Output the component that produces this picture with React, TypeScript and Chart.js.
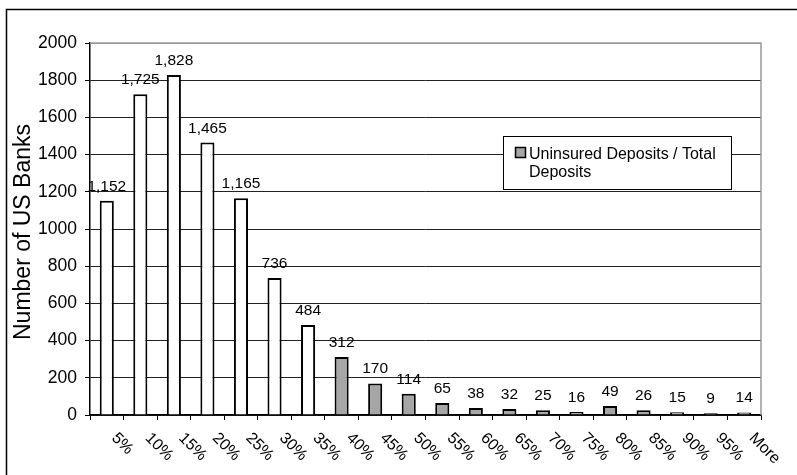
import React, { useEffect, useRef } from "react";
import { Chart, registerables } from "chart.js";

Chart.register(...registerables);

const categories = ["5%", "10%", "15%", "20%", "25%", "30%", "35%", "40%", "45%", "50%", "55%", "60%", "65%", "70%", "75%", "80%", "85%", "90%", "95%", "More"];
const bankCounts = [1152, 1725, 1828, 1465, 1165, 736, 484, 312, 170, 114, 65, 38, 32, 25, 16, 49, 26, 15, 9, 14];
const yTicks = [0, 200, 400, 600, 800, 1000, 1200, 1400, 1600, 1800, 2000];
const seriesName = "Uninsured Deposits / Total Deposits";
const legendLines = ["Uninsured Deposits / Total", "Deposits"];
const yTitle = "Number of US Banks";

const FONT = '"Liberation Sans", Arial, Helvetica, sans-serif';
const GRAY = "#a6a6a6";

function isGray(label: string) {
  const n = parseFloat(label);
  return isNaN(n) || n >= 40;
}

const decorPlugin = {
  id: "decor",
  afterDraw(chart: any) {
    const ctx = chart.ctx;
    const area = chart.chartArea;
    const meta = chart.getDatasetMeta(0);
    ctx.save();
    // outer border
    ctx.strokeStyle = "#000";
    ctx.lineWidth = 1.5;
    ctx.beginPath();
    ctx.moveTo(6.5, 800);
    ctx.lineTo(6.5, 9.5);
    ctx.lineTo(900, 9.5);
    ctx.stroke();
    // plot border top/right
    ctx.strokeStyle = "#999";
    ctx.lineWidth = 1.5;
    ctx.beginPath();
    ctx.moveTo(area.left, area.top);
    ctx.lineTo(area.right, area.top);
    ctx.lineTo(area.right, area.bottom);
    ctx.stroke();

    // data labels
    ctx.fillStyle = "#000";
    ctx.font = `15.5px ${FONT}`;
    ctx.textAlign = "center";
    ctx.textBaseline = "alphabetic";
    meta.data.forEach((bar: any, i: number) => {
      ctx.fillText(bankCounts[i].toLocaleString("en-US"), bar.x, bar.y - 10);
    });

    // x labels rotated
    const xs = chart.scales.x;
    ctx.font = `16px ${FONT}`;
    ctx.textAlign = "left";
    ctx.textBaseline = "top";
    categories.forEach((c, i) => {
      const cx = xs.getPixelForValue(i);
      ctx.save();
      ctx.translate(cx + 13, area.bottom + 15);
      ctx.rotate(Math.PI / 4);
      ctx.fillText(c, 0, 0);
      ctx.restore();
    });

    // y title
    ctx.save();
    ctx.font = `23px ${FONT}`;
    ctx.textAlign = "center";
    ctx.textBaseline = "middle";
    ctx.translate(24, (area.top + area.bottom) / 2 + 3);
    ctx.rotate(-Math.PI / 2);
    ctx.fillText(yTitle, 0, 0);
    ctx.restore();

    // legend
    const lx = 503.5, ly = 136.5, lw = 228, lh = 53;
    ctx.fillStyle = "#fff";
    ctx.fillRect(lx, ly, lw, lh);
    ctx.strokeStyle = "#000";
    ctx.lineWidth = 1;
    ctx.strokeRect(lx, ly, lw, lh);
    ctx.fillStyle = GRAY;
    ctx.fillRect(515.5, 147.5, 10, 10);
    ctx.lineWidth = 1.5;
    ctx.strokeRect(515.5, 147.5, 10, 10);
    ctx.fillStyle = "#000";
    ctx.font = `16px ${FONT}`;
    ctx.textAlign = "left";
    ctx.textBaseline = "alphabetic";
    ctx.fillText(legendLines[0], 529, 159);
    ctx.fillText(legendLines[1], 529, 177);
    ctx.restore();
  },
};

export default function App() {
  const ref = useRef<HTMLCanvasElement>(null);
  useEffect(() => {
    if (!ref.current) return;
    const chart = new Chart(ref.current, {
      type: "bar",
      data: {
        labels: categories,
        datasets: [
          {
            label: seriesName,
            data: bankCounts,
            backgroundColor: (c: any) => (isGray(categories[c.dataIndex] ?? "") ? GRAY : "#fff"),
            borderColor: "#000",
            borderWidth: 2,
            barPercentage: 0.42,
            categoryPercentage: 1,
          },
        ],
      },
      options: {
        animation: false,
        responsive: false,
        devicePixelRatio: 1,
        layout: { padding: { left: 0, top: 43, right: 36, bottom: 0 } },
        plugins: { legend: { display: false }, tooltip: { enabled: false } },
        scales: {
          x: {
            afterFit: (s: any) => {
              s.height = 60;
            },
            ticks: { display: false },
            grid: {
              offset: true,
              drawOnChartArea: false,
              drawTicks: true,
              tickLength: 5,
              color: "#000",
            },
            border: { display: true, color: "#000", width: 1.5 },
          },
          y: {
            min: 0,
            max: 2000,
            afterFit: (s: any) => {
              s.width = 90;
            },
            afterBuildTicks: (s: any) => {
              s.ticks = yTicks.map((v) => ({ value: v }));
            },
            ticks: {
              color: "#000",
              font: { family: FONT, size: 17.5 },
              padding: 8,
              callback: (v: any) => String(v),
            },
            grid: {
              color: (c: any) => (c.tick && c.tick.value === 2000 ? "#999" : "#222"),
              lineWidth: 1,
              tickLength: 5,
              tickColor: "#000",
            },
            border: { display: true, color: "#000", width: 1.5 },
          },
        },
      },
      plugins: [decorPlugin],
    });
    return () => chart.destroy();
  }, []);
  return (
    <div style={{ position: "absolute", left: 0, top: 0, width: 797, height: 475, background: "#fff" }}>
      <canvas ref={ref} width={797} height={475} style={{ width: 797, height: 475, display: "block" }} />
    </div>
  );
}
